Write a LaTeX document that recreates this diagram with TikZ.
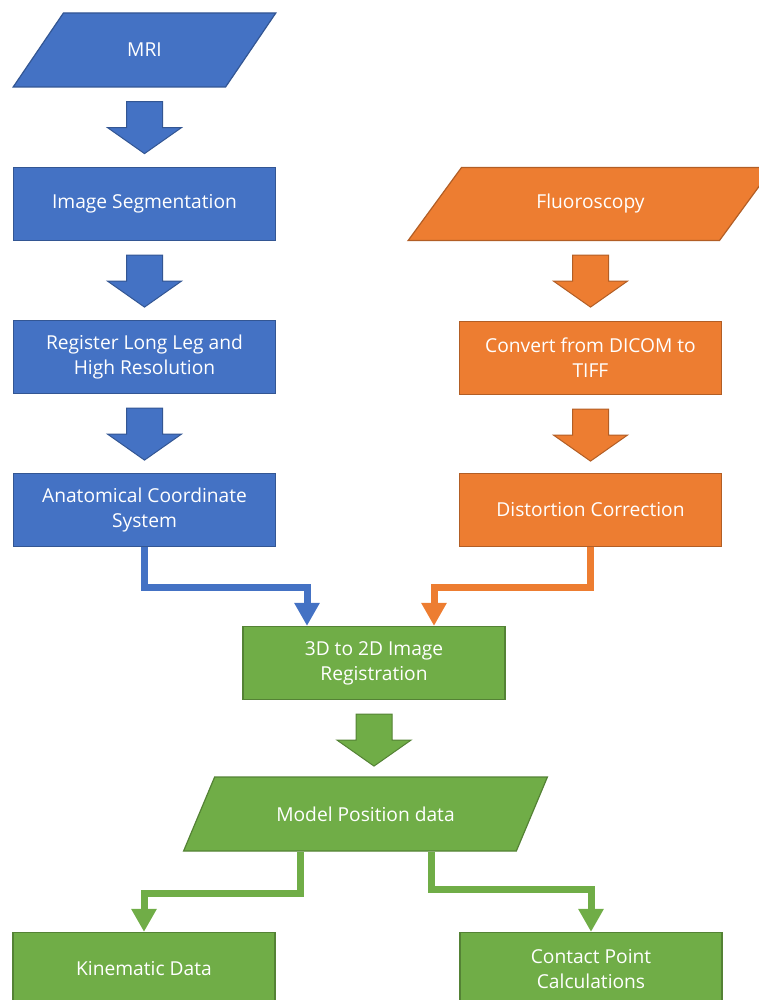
\documentclass[tikz,border=0pt]{standalone}
\usepackage{fontspec}
\setmainfont{Open Sans}
\usetikzlibrary{shapes.geometric,arrows.meta}
\definecolor{mriblue}{HTML}{4472C4}
\definecolor{mriedge}{HTML}{2F528F}
\definecolor{fluorange}{HTML}{ED7D31}
\definecolor{fluedge}{HTML}{AE5A21}
\definecolor{outgreen}{HTML}{70AD47}
\definecolor{outedge}{HTML}{507E32}
\tikzset{
  box/.style={rectangle,fill=#1,draw=#1!75!black,line width=1.2pt,text=white,
    minimum width=262pt,minimum height=73pt,align=center,inner sep=2pt,
    font=\fontsize{19.2}{25}\selectfont},
  data/.style={box=#1,trapezium,trapezium stretches=true,
    trapezium left angle=45,trapezium right angle=135,minimum width=365pt},
  flow/.style={draw=#1,line width=7pt,-{Triangle[width=24pt,length=23pt]}},
  blockstyle/.style={fill=#1,draw=#1!75!black,line width=1pt}
}
% block arrow below a node
\newcommand{\blockdown}[2]{%
  \path[blockstyle=#2] ([shift={(-18,-14)}]#1.south) -- ++(36,0) -- ++(0,-26)
    -- ++(19,0) -- ++(-37,-26) -- ++(-37,26) -- ++(19,0) -- cycle;
}
\begin{document}
\begin{tikzpicture}[x=1pt,y=1pt]
  \clip (0,0) rectangle (759,-1000);
  % MRI column
  \node[data=mriblue,trapezium left angle=56,trapezium right angle=124,
    minimum width=263pt,minimum height=74pt] (mri) at (144.5,-50) {MRI};
  \node[box=mriblue] (seg) at (144.5,-204) {Image Segmentation};
  \node[box=mriblue] (leg) at (144.5,-357) {Register Long Leg and\\High Resolution};
  \node[box=mriblue] (anat) at (144.5,-510) {Anatomical Coordinate\\System};
  \blockdown{mri}{mriblue}
  \blockdown{seg}{mriblue}
  \blockdown{leg}{mriblue}
  % fluoroscopy column
  \node[data=fluorange,minimum height=73pt] (fluoro) at (590.5,-204) {Fluoroscopy};
  \node[box=fluorange] (dicom) at (590.5,-358) {Convert from DICOM to\\TIFF};
  \node[box=fluorange] (dist) at (590.5,-510) {Distortion Correction};
  \blockdown{fluoro}{fluorange}
  \blockdown{dicom}{fluorange}
  % registration and outputs
  \node[box=outgreen] (reg) at (374,-663) {3D to 2D Image\\Registration};
  \node[data=outgreen,minimum height=74pt] (model) at (365.5,-814) {Model Position data};
  \node[box=outgreen] (kin) at (144,-969) {Kinematic Data};
  \node[box=outgreen] (cont) at (591,-969) {Contact Point\\Calculations};
  \blockdown{reg}{outgreen}
  \path[flow=mriblue] (anat.south) -- ++(0,-40) -| ([xshift=-67pt]reg.north);
  \path[flow=fluorange] (dist.south) -- ++(0,-40) -| ([xshift=60pt]reg.north);
  \path[flow=outgreen] ([xshift=-65pt]model.south) -- ++(0,-42) -| (kin.north);
  \path[flow=outgreen] ([xshift=66pt]model.south) -- ++(0,-38) -| (cont.north);
\end{tikzpicture}
\end{document}
